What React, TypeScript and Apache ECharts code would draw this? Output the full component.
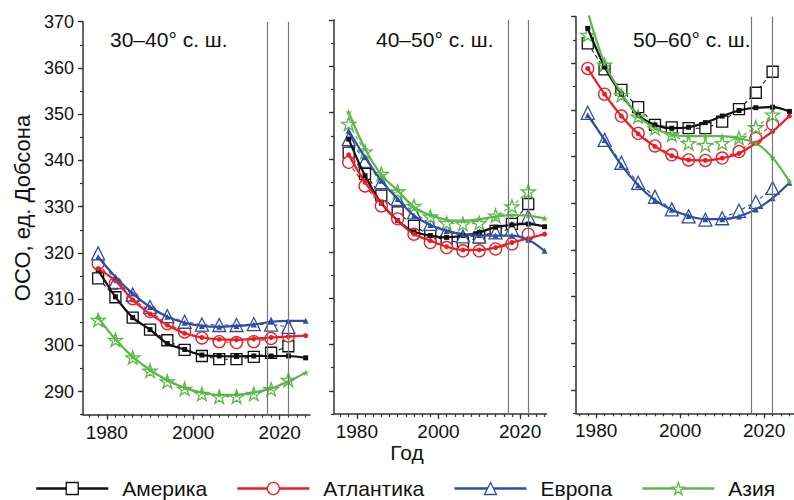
import React, { useEffect, useRef } from "react";
import * as echarts from "echarts";

// ---------- data ----------
const years = [1978, 1982, 1986, 1990, 1994, 1998, 2002, 2006, 2010, 2014, 2018, 2022];
const fitYears = [1978, 1982, 1986, 1990, 1994, 1998, 2002, 2006, 2010, 2014, 2018, 2022, 2026];
const refYears = [2017, 2022];
const panelTitles = ["30–40° с. ш.", "40–50° с. ш.", "50–60° с. ш."];
const regionNames = ["Америка", "Атлантика", "Европа", "Азия"];
const xTickLabels = [1980, 2000, 2020];
const xMinorTicks = [1976, 1978, 1980, 1982, 1984, 1986, 1988, 1990, 1992, 1994, 1996, 1998, 2000, 2002, 2004, 2006, 2008, 2010, 2012, 2014, 2016, 2018, 2020, 2022, 2024, 2026];
const yTickLabels = [290, 300, 310, 320, 330, 340, 350, 360, 370];
const yMinorTicks = [285, 290, 295, 300, 305, 310, 315, 320, 325, 330, 335, 340, 345, 350, 355, 360, 365, 370];

// Panel 1: 30–40° N
const p1America = [314.5, 310.4, 306.0, 303.4, 301.1, 299.0, 297.7, 297.0, 297.0, 297.5, 298.4, 299.8];
const p1AmericaFit = [316.3, 310.5, 306.0, 303.4, 300.4, 299.1, 297.9, 297.7, 297.6, 297.7, 297.7, 297.7, 297.3];
const p1Atlantic = [317.7, 313.4, 310.1, 307.3, 304.7, 302.9, 301.6, 300.8, 300.6, 300.8, 301.5, 302.0];
const p1AtlanticFit = [316.6, 314.0, 309.8, 306.8, 304.4, 302.6, 301.7, 301.3, 301.2, 301.4, 301.7, 301.9, 302.1];
const p1Europe = [319.9, 313.7, 311.0, 308.3, 306.3, 305.1, 304.5, 304.4, 304.4, 304.6, 304.5, 304.0];
const p1EuropeFit = [319.1, 314.8, 311.2, 308.3, 306.2, 304.9, 304.2, 304.0, 304.2, 304.5, 305.1, 305.3, 305.3];
const p1Asia = [305.5, 301.2, 297.4, 294.5, 292.2, 290.6, 289.5, 288.9, 288.9, 289.5, 290.5, 292.5];
const p1AsiaFit = [306.0, 301.3, 297.5, 294.7, 292.5, 290.8, 289.8, 289.3, 289.3, 289.8, 290.7, 292.2, 294.1];

// Panel 2: 40–50° N
const p2America = [341.4, 336.8, 332.1, 328.5, 325.6, 323.5, 322.4, 322.0, 323.1, 324.5, 326.0, 330.3];
const p2AmericaFit = [344.3, 336.4, 330.5, 326.7, 324.3, 323.5, 323.1, 323.5, 324.2, 325.3, 325.8, 326.0, 325.4];
const p2Atlantic = [339.3, 334.2, 329.9, 327.1, 323.8, 322.0, 320.9, 320.2, 320.2, 320.6, 321.7, 323.8];
const p2AtlanticFit = [340.9, 335.0, 330.5, 326.7, 323.8, 322.4, 321.1, 320.4, 320.4, 320.9, 322.0, 322.9, 323.8];
const p2Europe = [344.3, 339.6, 335.0, 331.4, 328.5, 326.0, 324.5, 323.3, 323.3, 324.2, 324.9, 327.6];
const p2EuropeFit = [346.1, 340.4, 335.3, 331.4, 327.8, 325.8, 324.5, 323.8, 323.6, 323.5, 323.5, 322.6, 320.2];
const p2Asia = [347.6, 341.6, 336.8, 333.0, 329.9, 327.6, 326.2, 326.0, 326.2, 327.8, 329.8, 333.0];
const p2AsiaFit = [350.1, 342.2, 336.6, 333.2, 329.6, 327.9, 326.9, 326.7, 327.0, 327.6, 327.9, 327.8, 327.2];

// Panel 3: 50–60° N
const p3America = [364.3, 358.7, 354.3, 350.6, 346.8, 346.3, 346.1, 346.1, 347.5, 350.2, 353.7, 358.2];
const p3AmericaFit = [367.5, 359.3, 353.4, 348.9, 346.8, 346.1, 346.3, 347.3, 348.7, 349.9, 350.5, 350.6, 349.7];
const p3Atlantic = [358.9, 353.4, 348.7, 345.0, 342.3, 340.4, 339.3, 339.2, 339.7, 341.1, 343.9, 347.0];
const p3AtlanticFit = [358.9, 353.4, 348.7, 344.9, 342.2, 340.2, 339.3, 339.2, 339.7, 340.7, 342.9, 345.4, 348.7];
const p3Europe = [349.4, 343.6, 338.7, 334.4, 331.4, 328.7, 327.2, 326.5, 326.8, 328.4, 330.3, 333.3];
const p3EuropeFit = [348.9, 343.6, 338.2, 333.9, 330.7, 328.6, 327.3, 326.6, 326.6, 327.2, 328.7, 331.1, 334.4];
const p3Asia = [366.1, 359.7, 353.2, 348.6, 346.1, 344.7, 342.9, 342.5, 342.9, 344.0, 346.3, 349.0];
const p3AsiaFit = [371.0, 360.0, 353.6, 348.7, 346.1, 344.7, 344.4, 344.4, 344.4, 343.9, 342.9, 339.8, 334.7];

const panelObs = [
  [p1America, p1Atlantic, p1Europe, p1Asia],
  [p2America, p2Atlantic, p2Europe, p2Asia],
  [p3America, p3Atlantic, p3Europe, p3Asia],
];
const panelFit = [
  [p1AmericaFit, p1AtlanticFit, p1EuropeFit, p1AsiaFit],
  [p2AmericaFit, p2AtlanticFit, p2EuropeFit, p2AsiaFit],
  [p3AmericaFit, p3AtlanticFit, p3EuropeFit, p3AsiaFit],
];

// ---------- styling ----------
const FONT = "'Liberation Sans', Arial, sans-serif";
const colors = ["#111111", "#ee1d23", "#2f4ea3", "#5cb848"];
const STAR = "path://M50,0L61.8,35.1L98.1,35.1L68.7,56.8L79.4,91L50,70L20.6,91L31.3,56.8L1.9,35.1L38.2,35.1Z";
const openSymbols = ["rect", "circle", "triangle", STAR];
const openSizes = [11, 12, 13, 14];
const fitSizes = [5, 5, 6, 7];
const AXIS_COLOR = "#333";

const layout = [
  { left: 83, top: 21.7, width: 227, height: 393, min: 1974.5, max: 2027, titleX: 110 },
  { left: 334, top: 20, width: 212.6, height: 394, min: 1974.4, max: 2026.5, titleX: 376 },
  { left: 576, top: 16.7, width: 217.6, height: 396.6, min: 1975.2, max: 2027, titleX: 633 },
];

function buildOption() {
  const grid: any[] = [];
  const xAxis: any[] = [];
  const yAxis: any[] = [];
  const series: any[] = [];

  layout.forEach((g, i) => {
    grid.push({ left: g.left, top: g.top, width: g.width, height: g.height, containLabel: false });
    xAxis.push({
      type: "value", gridIndex: i, min: g.min, max: g.max, position: "bottom",
      axisLine: { show: true, onZero: false, lineStyle: { color: AXIS_COLOR, width: 1.5 } },
      axisTick: { show: true, customValues: xTickLabels, length: 5, lineStyle: { color: AXIS_COLOR, width: 1.3 } },
      axisLabel: {
        customValues: xTickLabels, fontSize: 19, color: "#111", fontFamily: FONT, margin: 8,
        formatter: (v: number) => String(Math.round(v)),
      },
      splitLine: { show: false },
    });
    xAxis.push({
      type: "value", gridIndex: i, min: g.min, max: g.max, position: "bottom",
      axisLine: { show: false },
      axisTick: { show: true, customValues: xMinorTicks, length: 3, lineStyle: { color: AXIS_COLOR, width: 1.2 } },
      axisLabel: { show: false },
      splitLine: { show: false },
    });
    yAxis.push({
      type: "value", gridIndex: i, min: 285, max: 370, position: "left",
      axisLine: { show: true, onZero: false, lineStyle: { color: AXIS_COLOR, width: 1.5 } },
      axisTick: { show: true, customValues: yTickLabels, length: 5, lineStyle: { color: AXIS_COLOR, width: 1.3 } },
      axisLabel: {
        show: i === 0, customValues: yTickLabels, fontSize: 18, color: "#111", fontFamily: FONT, margin: 9,
        formatter: (v: number) => String(Math.round(v)),
      },
      splitLine: { show: false },
    });
    yAxis.push({
      type: "value", gridIndex: i, min: 285, max: 370, position: "left",
      axisLine: { show: false },
      axisTick: { show: true, customValues: yMinorTicks, length: 3, lineStyle: { color: AXIS_COLOR, width: 1.2 } },
      axisLabel: { show: false },
      splitLine: { show: false },
    });

    regionNames.forEach((name, r) => {
      const obs = panelObs[i][r];
      const fit = panelFit[i][r];
      series.push({
        type: "line",
        name,
        xAxisIndex: i * 2,
        yAxisIndex: i * 2,
        data: years.map((y, k) => [y, obs[k]]),
        symbol: openSymbols[r],
        symbolSize: openSizes[r],
        symbolKeepAspect: true,
        showAllSymbol: true,
        lineStyle: { color: colors[r], width: 1.1, type: [4, 3] },
        itemStyle: { color: "#ffffff", borderColor: colors[r], borderWidth: 1.3 },
        z: 2,
        markLine: r === 0 ? {
          silent: true,
          symbol: "none",
          label: { show: false },
          lineStyle: { color: "#777", width: 1.2, type: "solid" },
          data: refYears.map((x) => ({ xAxis: x })),
        } : undefined,
      });
      series.push({
        type: "line",
        name: name + " (сглаживание)",
        xAxisIndex: i * 2,
        yAxisIndex: i * 2,
        data: fitYears.map((y, k) => [y, fit[k]]),
        smooth: 0.3,
        symbol: openSymbols[r],
        symbolSize: fitSizes[r],
        symbolKeepAspect: true,
        showAllSymbol: true,
        lineStyle: { color: colors[r], width: 2.2 },
        itemStyle: { color: colors[r], borderWidth: 0 },
        z: 3,
      });
    });
  });

  const graphic: any[] = [
    {
      type: "text", x: 22, y: 208, rotation: Math.PI / 2,
      style: { text: "ОСО, ед. Добсона", fontSize: 22, fontFamily: FONT, fill: "#111", textAlign: "center", textVerticalAlign: "middle" },
    },
    {
      type: "text", x: 407, y: 452,
      style: { text: "Год", fontSize: 21, fontFamily: FONT, fill: "#111", textAlign: "center", textVerticalAlign: "middle" },
    },
  ];
  layout.forEach((g, i) => {
    graphic.push({
      type: "text", x: g.titleX, y: 39,
      style: { text: panelTitles[i], fontSize: 21, fontFamily: FONT, fill: "#111", textAlign: "left", textVerticalAlign: "middle" },
    });
  });

  return {
    animation: false,
    backgroundColor: "#ffffff",
    grid,
    xAxis,
    yAxis,
    series,
    graphic,
    legend: {
      left: 35,
      top: 478,
      padding: 0,
      itemWidth: 72,
      itemHeight: 15,
      itemGap: 29,
      selectedMode: false,
      textStyle: { fontSize: 21, fontFamily: FONT, color: "#111", padding: [0, 0, 0, 9] },
      data: regionNames.map((n, r) => ({
        name: n,
        lineStyle: { color: colors[r], width: 2.5, type: "solid" },
        itemStyle: { color: "#ffffff", borderColor: colors[r], borderWidth: 1.3 },
      })),
    },
  };
}

export default function App() {
  const ref = useRef<HTMLDivElement>(null);
  useEffect(() => {
    if (!ref.current) return;
    const chart = echarts.init(ref.current, undefined, { renderer: "svg" });
    chart.setOption(buildOption() as any);
    return () => chart.dispose();
  }, []);
  return (
    <div
      ref={ref}
      style={{ position: "fixed", left: 0, top: 0, width: 794, height: 500, background: "#fff" }}
    />
  );
}
